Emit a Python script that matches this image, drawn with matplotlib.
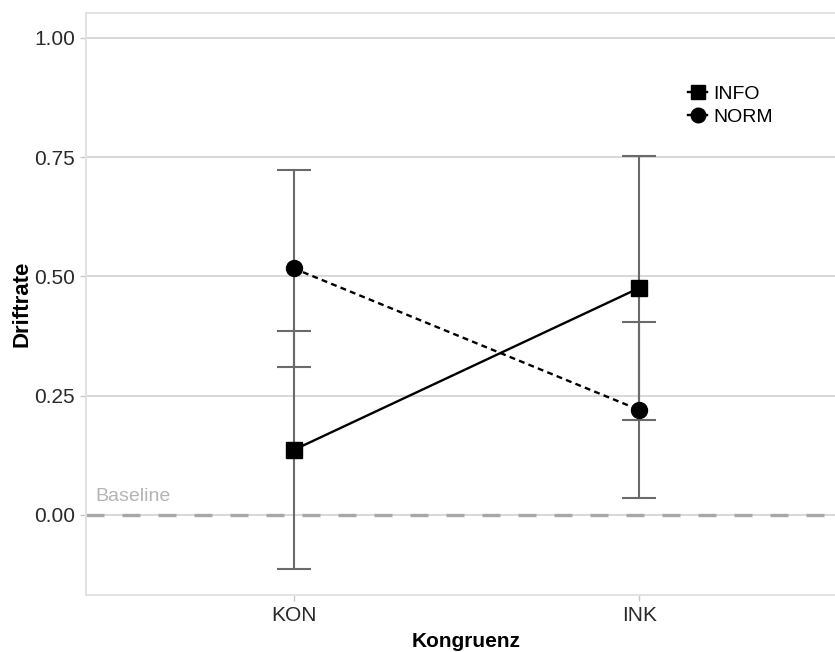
import matplotlib.pyplot as plt
from matplotlib.lines import Line2D

# data
conditions = ["KON", "INK"]
info_mean = [0.136, 0.476]
info_lo = [-0.113, 0.199]
info_hi = [0.386, 0.753]
norm_mean = [0.517, 0.220]
norm_lo = [0.310, 0.036]
norm_hi = [0.723, 0.405]
yticks = [0.0, 0.25, 0.50, 0.75, 1.00]

plt.rcParams['font.family'] = ['Liberation Sans', 'DejaVu Sans']

fig = plt.figure(figsize=(8.35, 6.52), dpi=100)
ax = fig.add_axes([86 / 835, 57 / 652, 761 / 835, 582.3 / 652])

x = [1, 2]
err_col = '#6a6a6a'

# grid and baseline
for t in yticks:
    ax.axhline(t, color='#d6d6d6', lw=1.3, zorder=0)
ax.axhline(0, color='#a8a8a8', lw=2.4, ls=(0, (5.4, 5.4)), zorder=1)
ax.text(0.428, 0.02, "Baseline", color='#b4b4b4', fontsize=14, va='bottom', ha='left')

# error bars
for m, lo, hi in [(info_mean, info_lo, info_hi), (norm_mean, norm_lo, norm_hi)]:
    yerr = [[a - b for a, b in zip(m, lo)], [b - a for a, b in zip(m, hi)]]
    ax.errorbar(x, m, yerr=yerr, fmt='none', ecolor=err_col, elinewidth=1.5,
                capsize=12.5, capthick=1.5, zorder=2)

ax.plot(x, info_mean, color='black', lw=1.7, ls='-', marker='s', ms=11.5, zorder=3)
ax.plot(x, norm_mean, color='black', lw=1.7, ls=(0, (2.5, 1.8)), marker='o', ms=11.5, zorder=3)

ax.set_xlim(0.4, 2.6)
ax.set_ylim(-0.168, 1.053)
ax.set_xticks(x)
ax.set_xticklabels(conditions)
ax.set_yticks(yticks)
ax.set_yticklabels([f"{t:.2f}" for t in yticks])
ax.tick_params(axis='both', labelsize=15, colors='#c8c8c8', labelcolor='#2a2a2a',
               length=4, width=1, pad=4)

for s in ax.spines.values():
    s.set_color('#e0e0e0')
    s.set_linewidth(1.3)

ax.set_xlabel("Kongruenz", fontsize=15, fontweight='bold', labelpad=5)
ax.set_ylabel("Driftrate", fontsize=16, fontweight='bold', labelpad=1, fontstretch='condensed')

handles = [
    Line2D([], [], color='black', marker='s', ms=10, lw=1.7),
    Line2D([], [], color='black', marker='o', ms=10.5, lw=1.7),
]
ax.legend(handles, ["INFO", "NORM"], loc='upper left', bbox_to_anchor=(0.791, 0.876),
          frameon=False, fontsize=14, handlelength=1.0, handletextpad=0.3,
          labelspacing=0.3, borderaxespad=0, borderpad=0)

fig.savefig("out.png", dpi=100)
